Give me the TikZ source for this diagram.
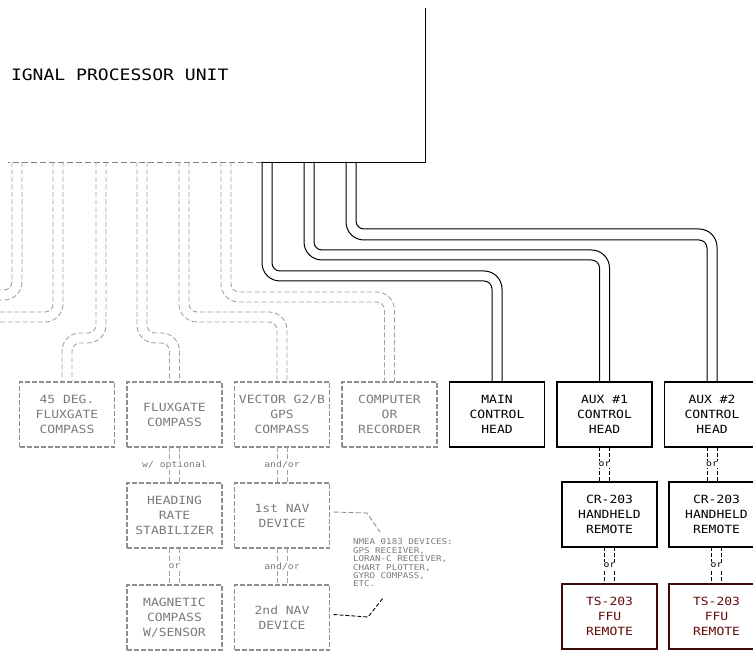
\documentclass[tikz,border=0pt]{standalone}
\usepackage{fontspec}
\usepackage{xcolor}
\usepackage{tikz}
\usetikzlibrary{positioning,calc}
\newfontfamily\cadfont[FakeStretch=1.15]{DejaVu Sans Mono}
\definecolor{boxgray}{HTML}{8E8E8E}
\definecolor{txtgray}{HTML}{7A7A7A}
\definecolor{cablegray}{HTML}{A2A2A2}
\definecolor{ffured}{HTML}{3E0B0B}

\begin{document}
\begin{tikzpicture}[x=1pt,y=-1pt,node distance=12.5pt,
  every node/.style={font=\cadfont\fontsize{11.3}{15}\selectfont,align=center,inner sep=0pt,outer sep=0pt},
  sbox/.style={draw,line width=1.8pt,minimum width=95pt,minimum height=65pt},
  dbox/.style={draw=boxgray,text=txtgray,line width=1.6pt,dash pattern=on 5pt off 2pt,minimum width=95pt,minimum height=65pt},
  rbox/.style={sbox,draw=ffured,text=ffured!80!red},
  cable/.style={line width=1pt},
  dcable/.style={draw=cablegray,line width=0.9pt,dash pattern=on 5pt off 2.5pt},
  link/.style={line width=0.9pt,dash pattern=on 4pt off 2pt},
  lbl/.style={fill=white,inner sep=1pt,font=\cadfont\fontsize{8.5}{9}\selectfont}]
  \useasboundingbox (0,0) rectangle (753,652);
  \clip (0,0) rectangle (753,652);

  \node[anchor=base west,font=\cadfont\fontsize{15.7}{18}\selectfont] (spu) at (11,81) {IGNAL PROCESSOR UNIT};
  \draw[line width=0.8pt] (425,8) -- (425,162) -- (262,162);
  \draw[draw=gray,line width=0.8pt,dash pattern=on 6pt off 3pt] (262,162) -- (8,162);

  \node[dbox] (b45) at (67,414.5) {45 DEG.\\FLUXGATE\\COMPASS};
  \node[dbox,right=of b45] (bflux) {FLUXGATE\\COMPASS};
  \node[dbox,right=of bflux] (bvec) {VECTOR G2/B\\GPS\\COMPASS};
  \node[dbox,right=of bvec] (bcomp) {COMPUTER\\OR\\RECORDER};
  \node[sbox,right=of bcomp] (bmain) {MAIN\\CONTROL\\HEAD};
  \node[sbox,right=of bmain] (baux1) {AUX \#1\\CONTROL\\HEAD};
  \node[sbox,right=of baux1] (baux2) {AUX \#2\\CONTROL\\HEAD};

  \node[dbox,below=36pt of bflux] (bhead) {HEADING\\RATE\\STABILIZER};
  \node[dbox,below=36pt of bvec] (bnav1) {1st NAV\\DEVICE};
  \node[dbox,below=37pt of bhead] (bmag) {MAGNETIC\\COMPASS\\W/SENSOR};
  \node[dbox,below=37pt of bnav1] (bnav2) {2nd NAV\\DEVICE};

  \node[sbox,below=35pt of baux1,xshift=5pt] (bcr1) {CR-203\\HANDHELD\\REMOTE};
  \node[sbox,below=35pt of baux2,xshift=4.5pt] (bcr2) {CR-203\\HANDHELD\\REMOTE};
  \node[rbox,below=37pt of bcr1] (bts1) {TS-203\\FFU\\REMOTE};
  \node[rbox,below=37pt of bcr2] (bts2) {TS-203\\FFU\\REMOTE};

  \node[anchor=north west,align=left,text=txtgray,font=\cadfont\fontsize{8}{8.4}\selectfont] (nmea) at (353,539)
    {NMEA 0183 DEVICES:\\GPS RECEIVER,\\LORAN-C RECEIVER,\\CHART PLOTTER,\\GYRO COMPASS,\\ETC.};

  % dashed cables
  \draw[dcable] (12,162) [rounded corners=8pt] -- (12,290) -- (-5,290);
  \draw[dcable] (22,162) [rounded corners=18pt] -- (22,300) -- (-5,300);
  \draw[dcable] (53,162) [rounded corners=8pt] -- (53,312) -- (-5,312);
  \draw[dcable] (63,162) [rounded corners=18pt] -- (63,322) -- (-5,322);
  \draw[dcable] (96,162) [rounded corners=8pt] -- (96,333) [rounded corners=18pt] -- (62,333) -- ([xshift=-5pt]b45.north);
  \draw[dcable] (106,162) [rounded corners=18pt] -- (106,343) [rounded corners=8pt] -- (72,343) -- ([xshift=5pt]b45.north);
  \draw[dcable] (137,162) [rounded corners=18pt] -- (137,343) [rounded corners=8pt] -- (169.5,343) -- ([xshift=-5pt]bflux.north);
  \draw[dcable] (147,162) [rounded corners=8pt] -- (147,333) [rounded corners=18pt] -- (179.5,333) -- ([xshift=5pt]bflux.north);
  \draw[dcable] (179,162) [rounded corners=18pt] -- (179,322) [rounded corners=8pt] -- (277,322) -- ([xshift=-5pt]bvec.north);
  \draw[dcable] (189,162) [rounded corners=8pt] -- (189,312) [rounded corners=18pt] -- (287,312) -- ([xshift=5pt]bvec.north);
  \draw[dcable] (221,162) [rounded corners=18pt] -- (221,302) [rounded corners=8pt] -- (384.5,302) -- ([xshift=-5pt]bcomp.north);
  \draw[dcable] (231,162) [rounded corners=8pt] -- (231,292) [rounded corners=18pt] -- (394.5,292) -- ([xshift=5pt]bcomp.north);

  % control head cables
  \draw[cable] (262,162) [rounded corners=18pt] -- (262,281) [rounded corners=8pt] -- (492,281) -- ([xshift=-5pt]bmain.north);
  \draw[cable] (272,162) [rounded corners=8pt] -- (272,271) [rounded corners=18pt] -- (502,271) -- ([xshift=5pt]bmain.north);
  \draw[cable] (304,162) [rounded corners=18pt] -- (304,260) [rounded corners=8pt] -- (599.5,260) -- ([xshift=-5pt]baux1.north);
  \draw[cable] (314,162) [rounded corners=8pt] -- (314,250) [rounded corners=18pt] -- (609.5,250) -- ([xshift=5pt]baux1.north);
  \draw[cable] (346,162) [rounded corners=18pt] -- (346,240) [rounded corners=8pt] -- (707,240) -- ([xshift=-5pt]baux2.north);
  \draw[cable] (356,162) [rounded corners=8pt] -- (356,229) [rounded corners=18pt] -- (717,229) -- ([xshift=5pt]baux2.north);

  % options between boxes
  \foreach \a/\b in {bflux/bhead,bvec/bnav1,bhead/bmag,bnav1/bnav2} {
    \draw[dcable] ([xshift=-5pt]\a.south) -- ([xshift=-5pt]\a.south |- \b.north);
    \draw[dcable] ([xshift=5pt]\a.south) -- ([xshift=5pt]\a.south |- \b.north);
  }
  \foreach \a/\b in {baux1/bcr1,baux2/bcr2,bcr1/bts1,bcr2/bts2} {
    \draw[link] ([xshift=-5pt]\a.south) -- ([xshift=-5pt]\a.south |- \b.north);
    \draw[link] ([xshift=5pt]\a.south) -- ([xshift=5pt]\a.south |- \b.north);
  }
  \node[lbl,text=txtgray] (opt1) at ($(bflux.south)!0.5!(bhead.north)$) {w/ optional};
  \node[lbl,text=txtgray] (andor1) at ($(bvec.south)!0.5!(bnav1.north)$) {and/or};
  \node[lbl,text=txtgray] (or1) at ($(bhead.south)!0.5!(bmag.north)$) {or};
  \node[lbl,text=txtgray] (andor2) at ($(bnav1.south)!0.5!(bnav2.north)$) {and/or};
  \node[lbl] (or2) at ($(baux1.south)!0.5!(baux1.south |- bcr1.north)$) {or};
  \node[lbl] (or3) at ($(baux2.south)!0.5!(baux2.south |- bcr2.north)$) {or};
  \node[lbl] (or4) at ($(bcr1.south)!0.5!(bts1.north)$) {or};
  \node[lbl] (or5) at ($(bcr2.south)!0.5!(bts2.north)$) {or};

  % NMEA leaders
  \draw[dcable,draw=boxgray] ([xshift=4pt,yshift=3.5pt]bnav1.east) -- (367,513) -- (380,532);
  \draw[link] ([xshift=4pt,yshift=3pt]bnav2.east) -- (368,617) -- (383,598);
\end{tikzpicture}
\end{document}
